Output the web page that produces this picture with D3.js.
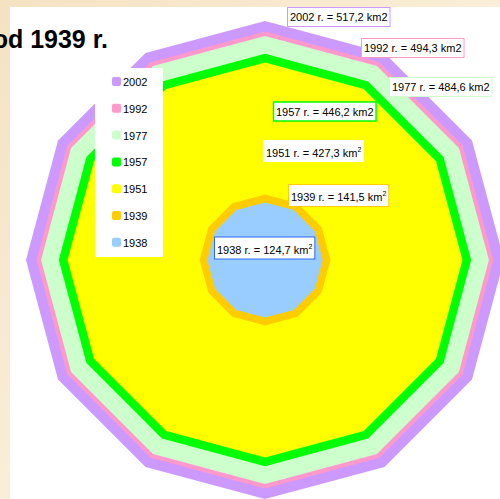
<!DOCTYPE html>
<html>
<head>
<meta charset="utf-8">
<script src="https://cdn.jsdelivr.net/npm/d3@7"></script>
<style>
  body { margin: 0; }
  svg { display: block; font-family: "Liberation Sans", Arial, sans-serif; }
</style>
</head>
<body>
<svg width="500" height="499"></svg>
<script>
// data: area of the city in each year (km2)
var years = ["2002", "1992", "1977", "1957", "1951", "1939", "1938"];
var areas = [517.2, 494.3, 484.6, 446.2, 427.3, 141.5, 124.7];
var colors = ["#cc99ff", "#ff99cc", "#ccffcc", "#00ff00", "#ffff00", "#ffcc00", "#99ccff"];
var borders = ["#cc99ff", "#ff99cc", "#ccffcc", "#00ff00", "#ffff00", "#ffcc00", "#3366ee"];
var labelTexts = ["517,2 km2", "494,3 km2", "484,6 km2", "446,2 km2", "427,3 km", "141,5 km", "124,7 km"];
var superTwo = [false, false, false, false, true, true, true];

// where each label box sits (left x, centre y)
var labelPos = [[287, 17], [361, 48], [389, 87], [273, 111.5], [263, 151], [288, 195.5], [214, 248]];

var svg = d3.select("svg"),
    width = +svg.attr("width"),
    height = +svg.attr("height");

var cx = 265, cy = 260;

// background texture-ish
var defs = svg.append("defs");
var grad = defs.append("linearGradient").attr("id", "bg")
    .attr("x1", 0).attr("y1", 0).attr("x2", 1).attr("y2", 1);
grad.append("stop").attr("offset", "0%").attr("stop-color", "#f4e2c2");
grad.append("stop").attr("offset", "50%").attr("stop-color", "#faeed8");
grad.append("stop").attr("offset", "100%").attr("stop-color", "#f7e8cd");

svg.append("rect").attr("width", width).attr("height", height).attr("fill", "url(#bg)");
svg.append("rect").attr("x", 10).attr("y", 7).attr("width", width - 10).attr("height", height - 7).attr("fill", "#fff");

var r = d3.scaleLinear().domain([0, d3.max(areas)]).range([0, 239]);

var angles = d3.range(12).map(function (i) { return i * Math.PI / 6; });
var poly = d3.lineRadial().curve(d3.curveLinearClosed);

svg.selectAll(".ring")
    .data(areas)
    .enter().append("path")
    .attr("class", "ring")
    .attr("transform", "translate(" + cx + "," + cy + ")")
    .attr("fill", function (d, i) { return colors[i]; })
    .attr("d", function (d) {
      return poly(angles.map(function (a) { return [a, r(d)]; }));
    });

// title (cut off on the left in the original)
svg.append("text")
    .attr("x", 108)
    .attr("y", 48)
    .attr("text-anchor", "end")
    .attr("font-size", 25)
    .attr("font-weight", "bold")
    .text("od 1939 r.");

// legend
var lg = svg.append("g");
lg.append("rect").attr("x", 95).attr("y", 68).attr("width", 68).attr("height", 189).attr("fill", "#fff");
var item = lg.selectAll(".item")
    .data(years)
    .enter().append("g")
    .attr("transform", function (d, i) { return "translate(112," + (82 + i * 26.8) + ")"; });
item.append("rect")
    .attr("x", 0).attr("y", -5).attr("width", 9).attr("height", 9).attr("rx", 2)
    .attr("fill", function (d, i) { return colors[i]; });
item.append("text")
    .attr("x", 11).attr("y", 4)
    .attr("font-size", 11)
    .text(function (d) { return d; });

// value labels
var lab = svg.selectAll(".lab")
    .data(years)
    .enter().append("g")
    .attr("class", "lab")
    .attr("transform", function (d, i) { return "translate(" + labelPos[i][0] + "," + labelPos[i][1] + ")"; });

var box = lab.append("rect").attr("fill", "#fff")
    .attr("stroke", function (d, i) { return borders[i]; })
    .attr("stroke-width", function (d, i) { return i == 3 ? 1.5 : 1; });

var txt = lab.append("text")
    .attr("x", 3)
    .attr("y", function (d, i) { return superTwo[i] ? 5.5 : 4; })
    .attr("font-size", 11);
txt.append("tspan").text(function (d, i) { return d + " r. = " + labelTexts[i]; });
txt.filter(function (d, i) { return superTwo[i]; })
    .append("tspan").attr("dy", -5).attr("font-size", 7).text("2");

lab.each(function (d, i) {
  var g = d3.select(this);
  var w = g.select("text").node().getComputedTextLength();
  var h = superTwo[i] ? 22 : 19;
  g.select("rect")
      .attr("x", 0.5).attr("y", -h / 2)
      .attr("width", w + 5).attr("height", h)
      .attr("stroke-opacity", i == 4 ? 0 : 1);
});
</script>
</body>
</html>
